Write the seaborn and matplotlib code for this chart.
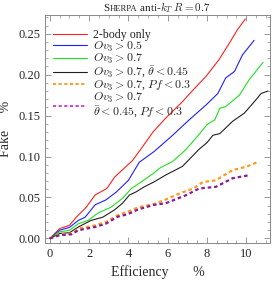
import matplotlib
matplotlib.use("Agg")
import matplotlib.pyplot as plt
from matplotlib.lines import Line2D
from matplotlib.ticker import MultipleLocator
import seaborn as sns

# curves (efficiency %, fake %)
red_x = [0, 0.5, 1.0, 1.35, 1.85, 2.3, 2.9, 3.3, 4.2, 4.6, 5.25, 5.9, 6.75, 7.2, 7.95, 8.6, 9.15, 9.55, 9.95]
red_y = [0, 0.012, 0.016, 0.026, 0.038, 0.053, 0.061, 0.075, 0.095, 0.108, 0.130, 0.147, 0.167, 0.179, 0.198, 0.218, 0.239, 0.255, 0.268]

blue_x = [0, 0.5, 1.0, 1.45, 1.8, 2.3, 2.85, 3.4, 4.0, 4.55, 5.3, 6.25, 7.1, 7.95, 8.55, 8.95, 9.4, 9.8, 10.4]
blue_y = [0, 0.010, 0.0135, 0.022, 0.026, 0.041, 0.047, 0.057, 0.071, 0.093, 0.106, 0.126, 0.145, 0.163, 0.177, 0.196, 0.204, 0.224, 0.242]

green_x = [0, 0.5, 1.0, 1.45, 1.95, 2.45, 3.1, 3.7, 4.15, 4.65, 5.3, 5.6, 6.25, 6.9, 7.45, 8.0, 8.4, 8.65, 8.95, 9.65, 10.15, 10.85]
green_y = [0, 0.008, 0.010, 0.018, 0.022, 0.031, 0.038, 0.049, 0.061, 0.069, 0.080, 0.086, 0.094, 0.108, 0.123, 0.139, 0.145, 0.159, 0.161, 0.175, 0.194, 0.215]

black_x = [0, 0.5, 1.0, 1.45, 2.1, 2.7, 3.3, 3.7, 4.05, 4.4, 4.8, 5.3, 5.9, 6.75, 7.6, 8.0, 8.3, 8.65, 9.3, 9.9, 10.55, 10.75, 11.1]
black_y = [0, 0.006, 0.007, 0.014, 0.022, 0.026, 0.035, 0.043, 0.053, 0.057, 0.063, 0.069, 0.0775, 0.088, 0.109, 0.117, 0.126, 0.128, 0.143, 0.153, 0.171, 0.177, 0.180]

orange_x = [0, 0.5, 1.1, 1.45, 2.3, 2.85, 3.45, 3.95, 4.5, 5.3, 5.9, 6.6, 7.3, 7.8, 8.45, 9.3, 10.0, 10.65]
orange_y = [0, 0.005, 0.006, 0.012, 0.016, 0.020, 0.0285, 0.0325, 0.038, 0.042, 0.0475, 0.055, 0.061, 0.069, 0.071, 0.0835, 0.0875, 0.094]

purple_x = [0, 0.5, 1.1, 1.45, 2.3, 2.85, 3.45, 3.95, 4.5, 5.3, 5.9, 6.95, 7.6, 8.45, 9.3, 10.2]
purple_y = [0, 0.004, 0.005, 0.010, 0.014, 0.018, 0.0265, 0.0295, 0.0355, 0.041, 0.043, 0.053, 0.061, 0.063, 0.0735, 0.0775]

labels = [
    "2-body only",
    r"$Ov_3 > 0.5$",
    r"$Ov_3 > 0.7$",
    r"$Ov_3 > 0.7$, $\bar{\theta} < 0.45$",
    r"$Ov_3 > 0.7$, $Pf < 0.3$",
    "$Ov_3 > 0.7$\n" + r"$\bar{\theta} < 0.45$, $Pf < 0.3$",
]

sns.set_style("ticks")
plt.rcParams["font.family"] = ["Liberation Serif", "DejaVu Serif"]
plt.rcParams["mathtext.fontset"] = "cm"

fig = plt.figure(figsize=(2.74, 2.81), dpi=100)
ax = fig.add_axes([0.164, 0.134, 0.821, 0.813])

frame = "#888888"
solid = [(red_x, red_y, "#ff2020"), (blue_x, blue_y, "#2020ff"),
         (green_x, green_y, "#20e020"), (black_x, black_y, "#202020")]
for xs, ys, c in solid:
    sns.lineplot(x=xs, y=ys, ax=ax, color=c, lw=0.8, sort=False, estimator=None)

sns.lineplot(x=orange_x, y=orange_y, ax=ax, color="#ff9a20", lw=1.6,
             linestyle=(0, (1.6, 1.3)), sort=False, estimator=None)
sns.lineplot(x=purple_x, y=purple_y, ax=ax, color="#8a1a9a", lw=1.6,
             linestyle=(0, (1.6, 1.3)), sort=False, estimator=None)

ax.set_xlim(-0.25, 11.2)
ax.set_ylim(-0.006, 0.273)
ax.xaxis.set_major_locator(MultipleLocator(2))
ax.xaxis.set_minor_locator(MultipleLocator(0.5))
ax.yaxis.set_major_locator(MultipleLocator(0.05))
ax.yaxis.set_minor_locator(MultipleLocator(0.01))
ax.yaxis.set_major_formatter(matplotlib.ticker.FormatStrFormatter("%.2f"))
ax.tick_params(which="both", direction="in", top=True, right=True, color=frame,
               labelsize=9, pad=3)
ax.tick_params(which="major", length=4, width=0.6)
ax.tick_params(which="minor", length=2, width=0.5)
for s in ax.spines.values():
    s.set_color(frame)
    s.set_linewidth(0.7)

ax.set_xlabel("Efficiency       %", fontsize=10, labelpad=4)
ax.set_ylabel("Fake     %", fontsize=10, labelpad=5)

handles = [
    Line2D([], [], color="#ff2020", lw=0.8),
    Line2D([], [], color="#2020ff", lw=0.8),
    Line2D([], [], color="#20e020", lw=0.8),
    Line2D([], [], color="#202020", lw=0.8),
    Line2D([], [], color="#ff9a20", lw=1.4, linestyle=(0, (1.6, 1.3))),
    Line2D([], [], color="#d040d0", lw=1.4, linestyle=(0, (1.6, 1.3))),
]
leg = ax.legend(handles, labels, loc="upper left", bbox_to_anchor=(0.0, 0.975),
                frameon=False, fontsize=8.6, handlelength=2.8, handletextpad=0.5,
                labelspacing=-0.12, borderaxespad=0.3)
leg.get_texts()[-1].set_linespacing(0.95)

# title with small-caps "Sherpa"
fig.canvas.draw()
r = fig.canvas.get_renderer()
ty = 0.962
parts = [("S", 8), ("HERPA", 6.2), (r" anti-$k_T$ $R = 0.7$", 8)]
texts = [fig.text(0, ty, s, fontsize=fs, va="baseline") for s, fs in parts]
widths = [t.get_window_extent(r).width / fig.bbox.width for t in texts]
x0 = 0.574 - sum(widths) / 2
for t, w in zip(texts, widths):
    t.set_x(x0)
    x0 += w

fig.savefig("out.png", dpi=100)
